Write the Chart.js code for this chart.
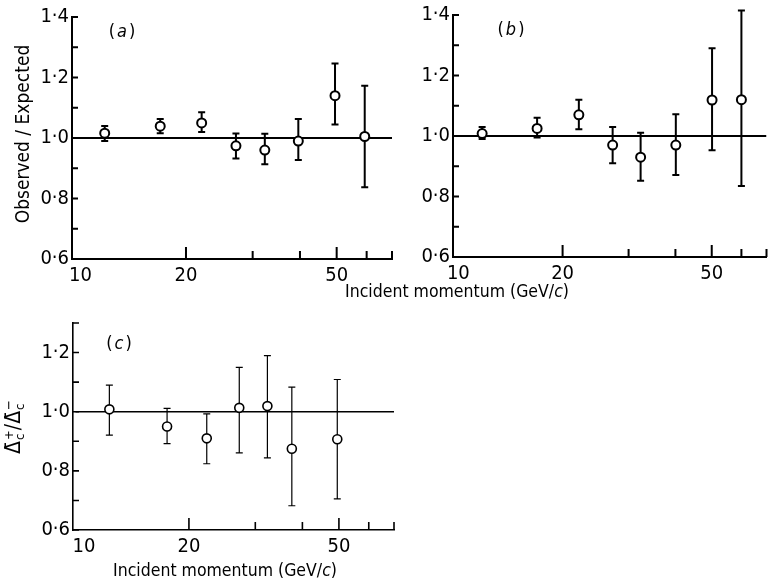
<!DOCTYPE html>
<html>
<head>
<meta charset="utf-8">
<script src="https://cdn.jsdelivr.net/npm/chart.js@4.4.1/dist/chart.umd.min.js"></script>
<style>
  html, body { margin: 0; padding: 0; background: #fff; }
  #page { position: relative; width: 773px; height: 585px; overflow: hidden;
          font-family: "DejaVu Sans Condensed", "DejaVu Sans", sans-serif; color: #000; }
  canvas { position: absolute; left: 0; top: 0; }
  .lbl { position: absolute; white-space: nowrap; font-size: 17.5px; line-height: 1; }
  .rot { transform: translate(-50%, -50%) rotate(-90deg); }
  .ctr { transform: translate(-50%, -50%); }
  .big { font-size: 19px; }
  .tag { letter-spacing: 2px; font-size: 18px; }
  .dl { font-size: 21px; }
  .ss { display: inline-flex; flex-direction: column; font-size: 13px; line-height: 11px;
        vertical-align: middle; margin-left: 1px; }
</style>
</head>
<body>
<div id="page">
  <canvas id="pa" width="773" height="585"></canvas>
  <canvas id="pb" width="773" height="585"></canvas>
  <canvas id="pc" width="773" height="585"></canvas>

  <div class="lbl tag ctr" style="left:123px;top:31px">(<i>a</i>)</div>
  <div class="lbl tag ctr" style="left:512px;top:29px">(<i>b</i>)</div>
  <div class="lbl tag ctr" style="left:120px;top:343px">(<i>c</i>)</div>

  <div class="lbl big rot" style="left:22px;top:134px">Observed / Expected</div>
  <div class="lbl ctr" style="left:457px;top:292px">Incident momentum (GeV/<i>c</i>)</div>
  <div class="lbl ctr" style="left:225px;top:571px">Incident momentum (GeV/<i>c</i>)</div>
  <div class="lbl dl rot" style="left:14px;top:427px">Δ̄<span class="ss"><span>+</span><span>c</span></span>/Δ̄<span class="ss"><span>−</span><span>c</span></span></div>
</div>

<script>
// panel (a): observed / expected
const momA = [12.2, 17.1, 22.0, 27.1, 32.3, 39.6, 49.5, 59.3];
const ratioA = [1.016, 1.039, 1.05, 0.974, 0.96, 0.99, 1.14, 1.005];
const hiA = [1.04, 1.063, 1.085, 1.015, 1.014, 1.063, 1.246, 1.173];
const loA = [0.99, 1.016, 1.02, 0.932, 0.913, 0.927, 1.045, 0.837];

// panel (b): observed / expected
const momB = [12.2, 17.1, 22.1, 27.2, 32.3, 40.1, 50.1, 60.0];
const ratioB = [1.008, 1.025, 1.07, 0.97, 0.93, 0.97, 1.119, 1.12];
const hiB = [1.03, 1.06, 1.12, 1.03, 1.011, 1.072, 1.29, 1.415];
const loB = [0.99, 0.995, 1.022, 0.91, 0.852, 0.871, 0.953, 0.835];

// panel (c): delta+ / delta-
const momC = [12.3, 17.5, 22.3, 27.2, 32.3, 37.5, 49.5];
const ratioC = [1.008, 0.95, 0.91, 1.013, 1.019, 0.875, 0.907];
const hiC = [1.09, 1.011, 0.993, 1.15, 1.19, 1.083, 1.109];
const loC = [0.921, 0.892, 0.824, 0.861, 0.844, 0.682, 0.705];

// axes
const xLabels = [10, 20, 50];
const xMarks = [20, 30, 40, 50, 60, 70];
const yLabelsAB = [0.6, 0.8, 1.0, 1.2, 1.4];
const yMarksAB = [0.6, 0.7, 0.8, 0.9, 1.0, 1.1, 1.2, 1.3, 1.4];
const yLabelsC = [0.6, 0.8, 1.0, 1.2];
const yMarksC = [0.6, 0.7, 0.8, 0.9, 1.0, 1.1, 1.2, 1.3];
const refX = [10, 70];

const FONT = '"DejaVu Sans Condensed", "DejaVu Sans", sans-serif';
const INK = '#000';

const errBars = {
  id: 'errbars',
  beforeDatasetsDraw(chart, args, o) {
    const { ctx, scales: { x, y } } = chart;
    ctx.save();
    ctx.strokeStyle = INK;
    ctx.lineWidth = o.width;
    ctx.beginPath();
    o.x.forEach((v, i) => {
      const px = x.getPixelForValue(v);
      const t = y.getPixelForValue(o.hi[i]);
      const b = y.getPixelForValue(o.lo[i]);
      ctx.moveTo(px, t); ctx.lineTo(px, b);
      ctx.moveTo(px - o.cap, t); ctx.lineTo(px + o.cap, t);
      ctx.moveTo(px - o.cap, b); ctx.lineTo(px + o.cap, b);
    });
    ctx.stroke();
    ctx.restore();
  }
};

// tick marks point inwards, so draw them ourselves
const inTicks = {
  id: 'inticks',
  afterDraw(chart, args, o) {
    const { ctx, chartArea: a, scales: { x, y } } = chart;
    ctx.save();
    ctx.strokeStyle = INK;
    ctx.lineWidth = o.width;
    ctx.beginPath();
    xMarks.forEach(v => {
      const px = x.getPixelForValue(v);
      const len = xLabels.includes(v) ? o.major : o.minor;
      ctx.moveTo(px, a.bottom); ctx.lineTo(px, a.bottom - len);
    });
    o.yMarks.forEach(v => {
      const py = y.getPixelForValue(v);
      ctx.moveTo(a.left, py); ctx.lineTo(a.left + o.ylen, py);
    });
    ctx.stroke();
    ctx.restore();
  }
};

function makePanel(id, cfg) {
  return new Chart(document.getElementById(id), {
    type: 'scatter',
    data: {
      datasets: [
        {
          data: cfg.x.map((v, i) => ({ x: v, y: cfg.y[i] })),
          pointRadius: 4.5,
          pointBorderWidth: cfg.lw,
          pointBackgroundColor: '#fff',
          pointBorderColor: INK
        },
        {
          type: 'line',
          data: refX.map(v => ({ x: v, y: 1 })),
          borderColor: INK,
          borderWidth: cfg.lw,
          pointRadius: 0
        }
      ]
    },
    options: {
      responsive: false,
      animation: false,
      devicePixelRatio: 1,
      layout: { padding: cfg.pad },
      plugins: {
        legend: { display: false },
        tooltip: { enabled: false },
        errbars: { x: cfg.x, hi: cfg.hi, lo: cfg.lo, width: cfg.ew, cap: 3.5 },
        inticks: { width: cfg.lw, major: 12, minor: 8, ylen: 6, yMarks: cfg.yMarks }
      },
      scales: {
        x: {
          type: 'logarithmic',
          min: cfg.xmin,
          max: 70,
          afterFit: s => { s.height = 30; },
          afterBuildTicks: s => { s.ticks = xLabels.map(v => ({ value: v })); },
          grid: { display: false, drawTicks: false },
          border: { display: true, color: INK, width: cfg.lw },
          ticks: {
            autoSkip: false, maxRotation: 0, padding: 5, color: INK,
            font: { family: FONT, size: 20 },
            callback: v => (v === 10 ? '   10' : String(v))
          }
        },
        y: {
          min: 0.6,
          max: cfg.ymax,
          afterFit: s => { s.width = 50; },
          afterBuildTicks: s => { s.ticks = cfg.yLabels.map(v => ({ value: v })); },
          grid: { display: false, drawTicks: false },
          border: { display: true, color: INK, width: cfg.lw },
          ticks: {
            padding: 3, color: INK,
            font: { family: FONT, size: 20 },
            callback: v => v.toFixed(1).replace('.', '·')
          }
        }
      }
    },
    plugins: [errBars, inTicks]
  });
}

makePanel('pa', {
  x: momA, y: ratioA, hi: hiA, lo: loA, xmin: 10, ymax: 1.4,
  yLabels: yLabelsAB, yMarks: yMarksAB, lw: 2, ew: 2,
  pad: { left: 22, right: 381, top: 17, bottom: 296 }
});
makePanel('pb', {
  x: momB, y: ratioB, hi: hiB, lo: loB, xmin: 10.2, ymax: 1.4,
  yLabels: yLabelsAB, yMarks: yMarksAB, lw: 2, ew: 2,
  pad: { left: 403, right: 1, top: 15, bottom: 298 }
});
makePanel('pc', {
  x: momC, y: ratioC, hi: hiC, lo: loC, xmin: 9.85, ymax: 1.3,
  yLabels: yLabelsC, yMarks: yMarksC, lw: 1.6, ew: 1.2,
  pad: { left: 23, right: 379, top: 323, bottom: 25 }
});
</script>
</body>
</html>
